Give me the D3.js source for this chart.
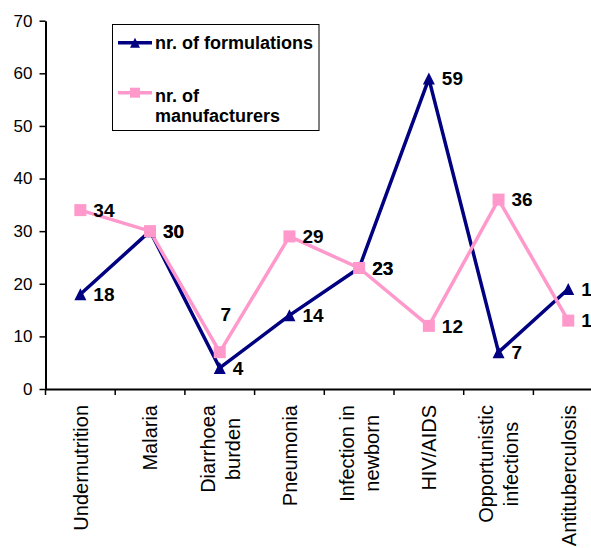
<!DOCTYPE html>
<html>
<head>
<meta charset="utf-8">
<script src="https://cdn.jsdelivr.net/npm/d3@7"></script>
<style>
  body { margin: 0; background: #fff; }
  svg { display: block; overflow: hidden; font-family: "Liberation Sans", Arial, sans-serif; }
</style>
</head>
<body>
<div id="my_dataviz"></div>
<script>
  // categories (line breaks as in the original axis)
  var categories = ["Undernutrition", "Malaria", "Diarrhoea\nburden", "Pneumonia",
                    "Infection in\nnewborn", "HIV/AIDS", "Opportunistic\ninfections", "Antituberculosis"];
  var formulations = [18, 30, 4, 14, 23, 59, 7, 19];
  var manufacturers = [34, 30, 7, 29, 23, 12, 36, 13];
  var yTicks = [0, 10, 20, 30, 40, 50, 60, 70];
  var seriesNames = ["nr. of formulations", "nr. of\nmanufacturers"];

  var navy = "#000080", pink = "#ff99cc";

  // plot area (the original is cropped on the right, so the last band runs off the page)
  var width = 591, height = 548;
  var plotLeft = 45.5, plotTop = 20.7, plotBottom = 389, step = 69.7;

  var svg = d3.select("#my_dataviz")
      .append("svg")
      .attr("width", width)
      .attr("height", height);

  // scales
  var x = d3.scaleBand()
      .domain(categories)
      .range([plotLeft, plotLeft + step * categories.length])
      .padding(0);
  var y = d3.scaleLinear()
      .domain([0, 70])
      .range([plotBottom, plotTop]);

  function cx(i) { return x(categories[i]) + x.bandwidth() / 2; }

  // Y axis
  var yAxis = svg.append("g")
      .attr("transform", "translate(" + plotLeft + ",0)")
      .call(d3.axisLeft(y).tickValues(yTicks).tickSize(6).tickPadding(7).tickSizeOuter(0));
  yAxis.selectAll("text").style("font-size", "17px").attr("fill", "#000");
  yAxis.selectAll("line").attr("stroke", "#000").attr("stroke-width", 1.5);
  yAxis.select(".domain").attr("stroke", "#000").attr("stroke-width", 2);

  // X axis line + tick marks at category boundaries
  var xAxis = svg.append("g")
      .attr("transform", "translate(0," + plotBottom + ")")
      .call(d3.axisBottom(x).tickSize(0).tickFormat("").tickSizeOuter(0));
  xAxis.select(".domain").attr("stroke", "#000").attr("stroke-width", 2);
  xAxis.selectAll(".tick").remove();
  xAxis.selectAll("line.bound")
      .data(categories)
      .enter()
      .append("line")
      .attr("class", "bound")
      .attr("x1", d => x(d)).attr("x2", d => x(d))
      .attr("y1", 0).attr("y2", 6)
      .attr("stroke", "#000").attr("stroke-width", 1.5);

  // category labels, rotated, multi line centred in their block
  categories.forEach(function(c, i) {
    var lines = c.split("\n");
    var g = svg.append("g")
        .attr("transform", "translate(" + cx(i) + ",405) rotate(-90)");
    var texts = lines.map(function(l, k) {
      return g.append("text")
          .attr("y", (k - (lines.length - 1) / 2) * 25 + 7.3)
          .attr("text-anchor", "middle")
          .style("font-size", "20px")
          .text(l);
    });
    var L = d3.max(texts, t => t.node().getComputedTextLength());
    texts.forEach(t => t.attr("x", -L / 2));
  });

  // lines
  var line = d3.line()
      .x((d, i) => cx(i))
      .y(d => y(d));

  svg.append("path")
      .datum(formulations)
      .attr("d", line)
      .attr("fill", "none")
      .attr("stroke", navy)
      .attr("stroke-width", 3.5)
      .attr("stroke-linejoin", "round");

  svg.append("path")
      .datum(manufacturers)
      .attr("d", line)
      .attr("fill", "none")
      .attr("stroke", pink)
      .attr("stroke-width", 3.5)
      .attr("stroke-linejoin", "round");

  var tri = "M0,-6L6,6L-6,6Z";

  svg.selectAll("path.tri")
      .data(formulations)
      .enter()
      .append("path")
      .attr("class", "tri")
      .attr("d", tri)
      .attr("transform", (d, i) => "translate(" + cx(i) + "," + y(d) + ")")
      .attr("fill", navy);

  svg.selectAll("rect.sq")
      .data(manufacturers)
      .enter()
      .append("rect")
      .attr("class", "sq")
      .attr("x", (d, i) => cx(i) - 6)
      .attr("y", d => y(d) - 6)
      .attr("width", 12)
      .attr("height", 12)
      .attr("fill", pink);

  // data labels
  function labels(data, cls, moved) {
    svg.selectAll("text." + cls)
        .data(data)
        .enter()
        .append("text")
        .attr("class", cls)
        .attr("x", (d, i) => cx(i) + (moved[i] ? moved[i][0] : 13))
        .attr("y", (d, i) => y(d) + (moved[i] ? moved[i][1] : 0))
        .attr("dy", "0.36em")
        .attr("text-anchor", (d, i) => moved[i] ? "middle" : "start")
        .style("font-size", "19px")
        .style("font-weight", "bold")
        .text(d => d);
  }
  labels(formulations, "lf", {});
  labels(manufacturers, "lm", {2: [6, -38]});

  // legend
  var legend = svg.append("g");
  legend.append("rect")
      .attr("x", 112.5).attr("y", 24.5)
      .attr("width", 206.5).attr("height", 106)
      .attr("fill", "#fff")
      .attr("stroke", "#000")
      .attr("stroke-width", 1);

  legend.append("line")
      .attr("x1", 118).attr("x2", 152).attr("y1", 42.7).attr("y2", 42.7)
      .attr("stroke", navy).attr("stroke-width", 3.5);
  legend.append("path")
      .attr("d", "M0,-5L5,5L-5,5Z")
      .attr("transform", "translate(135,42.7)")
      .attr("fill", navy);
  legend.append("line")
      .attr("x1", 118).attr("x2", 152).attr("y1", 92.7).attr("y2", 92.7)
      .attr("stroke", pink).attr("stroke-width", 3.5);
  legend.append("rect")
      .attr("x", 130).attr("y", 87.7).attr("width", 10).attr("height", 10)
      .attr("fill", pink);

  legend.append("text")
      .attr("x", 155).attr("y", 48.5)
      .style("font-size", "18px").style("font-weight", "bold")
      .text(seriesNames[0]);
  var l2 = legend.append("text")
      .attr("x", 155).attr("y", 101.7)
      .style("font-size", "18px").style("font-weight", "bold");
  seriesNames[1].split("\n").forEach(function(s, k) {
    l2.append("tspan").attr("x", 155).attr("dy", k ? 20 : 0).text(s);
  });
</script>
</body>
</html>
